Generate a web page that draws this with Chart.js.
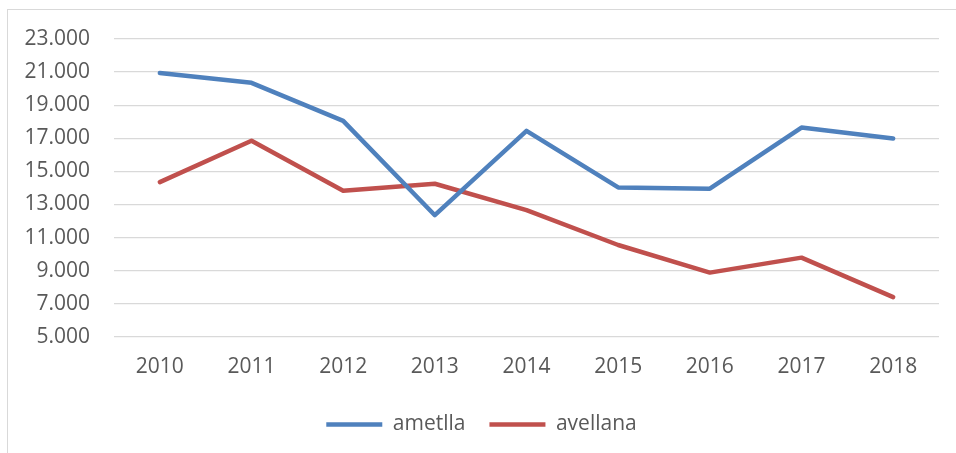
<!DOCTYPE html>
<html>
<head>
<meta charset="utf-8">
<script src="https://cdn.jsdelivr.net/npm/chart.js@4.4.1/dist/chart.umd.min.js"></script>
<style>
  html, body { margin: 0; padding: 0; background: #fff; }
  #frame {
    position: absolute; left: 7px; top: 9px; width: 960px; height: 460px;
    border: 1px solid #d9d9d9; box-sizing: border-box;
  }
  #wrap { position: absolute; left: 0; top: 0; width: 956px; height: 453px; }
</style>
</head>
<body>
<div id="frame"></div>
<div id="wrap"><canvas id="chart"></canvas></div>
<script>
const years = ["2010", "2011", "2012", "2013", "2014", "2015", "2016", "2017", "2018"];
const ametlla = [20950, 20350, 18050, 12350, 17450, 14030, 13950, 17650, 16990];
const avellana = [14350, 16850, 13830, 14250, 12660, 10550, 8880, 9785, 7395];
const yTicks = [5000, 7000, 9000, 11000, 13000, 15000, 17000, 19000, 21000, 23000];

const textColor = "#595959";
const gridColor = "#d9d9d9";

var chart = new Chart(document.getElementById("chart"), {
  type: "line",
  data: {
    labels: years,
    datasets: [
      {
        label: "ametlla",
        data: ametlla,
        borderColor: "#4f81bd",
        backgroundColor: "#4f81bd",
        borderWidth: 4.5,
        borderCapStyle: "round",
        borderJoinStyle: "round",
        pointRadius: 0,
        tension: 0
      },
      {
        label: "avellana",
        data: avellana,
        borderColor: "#c0504d",
        backgroundColor: "#c0504d",
        borderWidth: 4.5,
        borderCapStyle: "round",
        borderJoinStyle: "round",
        pointRadius: 0,
        tension: 0
      }
    ]
  },
  options: {
    responsive: true,
    maintainAspectRatio: false,
    animation: false,
    layout: { padding: { top: 39, left: 24, right: 17, bottom: 8 } },
    plugins: {
      tooltip: { enabled: false },
      legend: {
        position: "bottom",
        labels: {
          color: textColor,
          font: { family: "Open Sans", size: 21 },
          usePointStyle: true,
          pointStyle: "line",
          pointStyleWidth: 56,
          padding: 24
        }
      }
    },
    scales: {
      x: {
        offset: true,
        grid: { display: false },
        border: { display: false },
        ticks: { color: textColor, font: { family: "Open Sans", size: 21 }, padding: 10 }
      },
      y: {
        min: 5000,
        max: 23000,
        afterFit: function (scale) { scale.width = 90; },
        afterBuildTicks: function (scale) {
          scale.ticks = yTicks.map(v => ({ value: v }));
        },
        grid: { color: gridColor, lineWidth: 1.3, drawTicks: false },
        border: { display: false },
        ticks: {
          color: textColor,
          font: { family: "Open Sans", size: 21 },
          padding: 24,
          callback: v => v.toLocaleString("de-DE")
        }
      }
    }
  }
});
</script>
</body>
</html>
